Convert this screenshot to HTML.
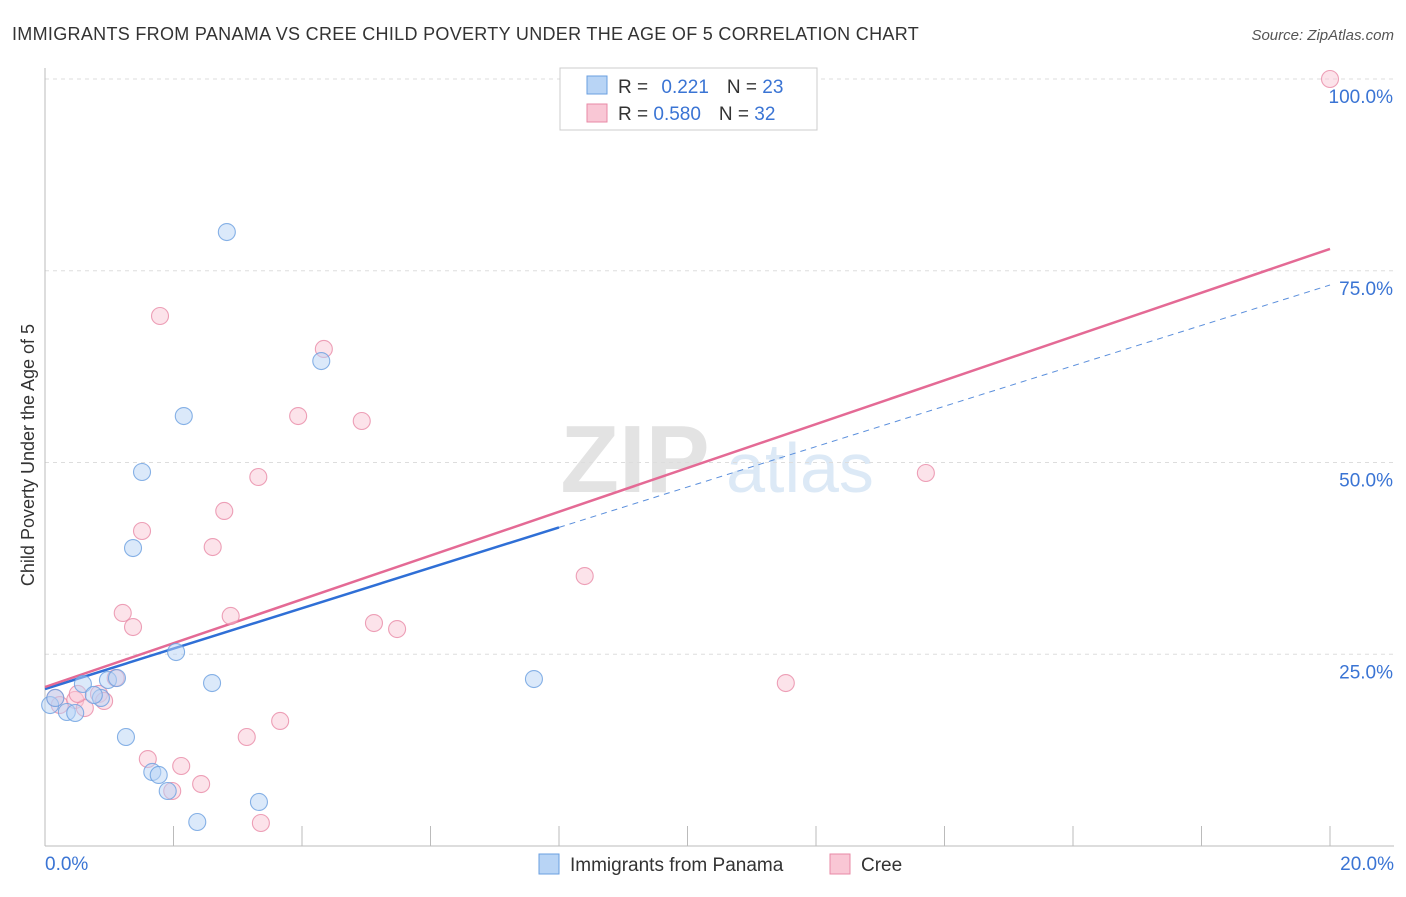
<!DOCTYPE html>
<html><head><meta charset="utf-8">
<style>
body{margin:0;background:#fff;font-family:"Liberation Sans",sans-serif;}
svg text{font-family:"Liberation Sans",sans-serif;}
</style></head><body>
<svg id="chart" width="1406" height="892" xmlns="http://www.w3.org/2000/svg">
<text x="12" y="40" font-size="18" fill="#333" letter-spacing="0.3" textLength="907">IMMIGRANTS FROM PANAMA VS CREE CHILD POVERTY UNDER THE AGE OF 5 CORRELATION CHART</text>
<text x="1394" y="40" font-size="15" fill="#555" font-style="italic" text-anchor="end">Source: ZipAtlas.com</text>
<text x="0" y="0" transform="translate(34,455) rotate(-90)" font-size="18" fill="#333" text-anchor="middle">Child Poverty Under the Age of 5</text>
<g>
<text x="635" y="492" font-size="96" fill="#e3e3e3" font-family="Liberation Serif" text-anchor="middle" font-weight="bold">ZIP</text>
<text x="800" y="492" font-size="70" fill="#dce9f6" text-anchor="middle">atlas</text>
</g>
<g id="grid"></g>
<g id="axes"></g>
<g id="lines"></g>
<g id="points"></g>
<g>
<rect x="560" y="68" width="257" height="62" fill="#fff" stroke="#ccc"/>
<rect x="587" y="76" width="20" height="18" fill="#b8d4f5" stroke="#6a9fe0"/>
<rect x="587" y="104" width="20" height="18" fill="#f9c7d5" stroke="#e88aa6"/>
<text x="618" y="93" font-size="19" fill="#333">R = <tspan fill="#3a74d4" dx="8">0.221</tspan><tspan dx="18" fill="#333">N = </tspan><tspan fill="#3a74d4">23</tspan></text>
<text x="618" y="120" font-size="19" fill="#333">R = <tspan fill="#3a74d4">0.580</tspan><tspan dx="18" fill="#333">N = </tspan><tspan fill="#3a74d4">32</tspan></text>
</g>
<g>
<rect x="539" y="854" width="20" height="20" fill="#b8d4f5" stroke="#6a9fe0"/>
<text x="570" y="871" font-size="19" fill="#333">Immigrants from Panama</text>
<rect x="830" y="854" width="20" height="20" fill="#f9c7d5" stroke="#e88aa6"/>
<text x="861" y="871" font-size="19" fill="#333">Cree</text>
</g>
</svg>
<script>
const yTicks=[25,50,75,100];
const yTickLabels=["25.0%","50.0%","75.0%","100.0%"];
const xTicks=[0,2,4,6,8,10,12,14,16,18,20];
const xEndLabels=["0.0%","20.0%"];
const panamaX=[0.08,0.16,0.34,0.47,0.59,0.98,1.12,0.87,0.76,1.26,1.67,1.77,1.91,2.37,2.60,2.04,3.33,7.61,1.37,1.51,2.16,4.30,2.83];
const panamaY=[18.38,19.30,17.47,17.34,21.12,21.64,21.90,19.30,19.69,14.21,9.65,9.26,7.17,3.13,21.25,25.29,5.74,21.77,38.85,48.76,56.06,63.23,80.05];
const creeX=[0.16,0.23,0.47,0.62,0.51,0.84,0.92,1.10,1.60,1.98,2.12,2.43,3.36,3.14,3.66,1.21,1.37,2.89,2.61,1.51,2.79,3.32,1.79,3.94,4.34,4.93,5.12,5.48,8.40,11.53,13.71,20.0];
const creeY=[19.30,18.38,19.04,17.99,19.82,19.82,18.91,21.90,11.34,7.17,10.43,8.08,3.00,14.21,16.30,30.38,28.55,29.99,38.98,41.07,43.68,48.11,69.10,56.06,64.80,55.41,29.07,28.29,35.20,21.25,48.63,100];
const panamaTrend=[20.47,73.14];
const creeTrend=[20.73,77.85];
const panamaSolidEnd=8.0;

const NS="http://www.w3.org/2000/svg";
const sx=v=>45+v/20*1285;
const sy=v=>846-v/100*767;
function mk(tag,attrs,parent){const e=document.createElementNS(NS,tag);for(const k in attrs)e.setAttribute(k,attrs[k]);document.getElementById(parent).appendChild(e);return e;}

yTicks.forEach((t,i)=>{
  const g=mk('line',{x1:45,x2:1394,y1:sy(t),y2:sy(t),stroke:'#ddd','stroke-dasharray':'4,4'},'grid');
  
  
  const l=mk('text',{x:1393,y:sy(t)+24,'font-size':19,fill:'#3a74d4','text-anchor':'end'},'grid');
  l.textContent=yTickLabels[i];
  
  
});
const ax=mk('line',{x1:45,x2:45,y1:68,y2:846,stroke:'#bbb'},'axes');


const bx=mk('line',{x1:45,x2:1394,y1:846,y2:846,stroke:'#bbb'},'axes');


xTicks.forEach(t=>{
  const k=mk('line',{x1:sx(t),x2:sx(t),y1:826,y2:846,stroke:'#bbb'},'axes');
  
  
});
const xl0=mk('text',{x:45,y:870,'font-size':19,fill:'#3a74d4'},'axes');xl0.textContent=xEndLabels[0];


const xl1=mk('text',{x:1394,y:870,'font-size':19,fill:'#3a74d4','text-anchor':'end'},'axes');xl1.textContent=xEndLabels[1];



function pts(X,Y,fill,stroke,name){
  X.forEach((x,i)=>{
    const c=mk('circle',{cx:sx(x),cy:sy(Y[i]),r:8.5,fill:fill,'fill-opacity':0.5,stroke:stroke,'stroke-opacity':0.8,'stroke-width':1.1},'points');
    
    
  });
}
pts(creeX,creeY,'#f9c7d5','#e88aa6','cree-point');
pts(panamaX,panamaY,'#b8d4f5','#6a9fe0','panama-point');

const pv=x=>panamaTrend[0]+(panamaTrend[1]-panamaTrend[0])*x/20;
const cv=x=>creeTrend[0]+(creeTrend[1]-creeTrend[0])*x/20;
const pd=mk('line',{x1:sx(panamaSolidEnd),y1:sy(pv(panamaSolidEnd)),x2:sx(20),y2:sy(pv(20)),stroke:'#5b8fdc','stroke-width':1,'stroke-dasharray':'6,5'},'lines');


const ps=mk('line',{x1:sx(0),y1:sy(pv(0)),x2:sx(panamaSolidEnd),y2:sy(pv(panamaSolidEnd)),stroke:'#2f6fd6','stroke-width':2.5},'lines');


const cl=mk('line',{x1:sx(0),y1:sy(cv(0)),x2:sx(20),y2:sy(cv(20)),stroke:'#e46a95','stroke-width':2.5},'lines');


</script>
</body></html>
